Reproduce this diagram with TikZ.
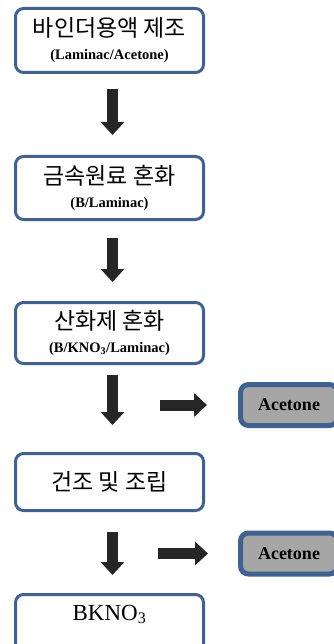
\documentclass[tikz,border=0pt]{standalone}
\usepackage{fontspec}
\setmainfont{Liberation Serif}
\newfontfamily\kr{Noto Sans CJK KR}
\usepackage{tikz}
\usetikzlibrary{arrows.meta,positioning}
\definecolor{boxblue}{RGB}{65,98,145}
\definecolor{stepgray}{RGB}{166,166,166}
\definecolor{arrowdark}{RGB}{38,38,38}
\newcommand{\krtext}{\kr\fontsize{23}{23}\selectfont}
\newcommand{\subtext}{\bfseries\fontsize{14.5}{15}\selectfont}
\tikzset{
  stepbox/.style={draw=boxblue, line width=3pt, rounded corners=8pt, fill=white,
    minimum width=188pt, align=center, inner sep=0pt, font=\fontsize{20}{23}\selectfont},
  outbox/.style={draw=boxblue, line width=5pt, rounded corners=8pt, fill=stepgray,
    minimum width=97pt, minimum height=41pt, font=\bfseries\fontsize{18}{18}\selectfont},
  blockarrow/.style={draw=arrowdark, line width=11pt,
    -{Triangle[width=23pt,length=13pt]}}
}

\begin{document}
\begin{tikzpicture}[x=1pt,y=-1pt]
\useasboundingbox (0,0) rectangle (333,644);
\node[stepbox, minimum height=64pt] (bind) at (109.5,40.5) {{\krtext 바인더용액 제조}\\{\subtext (Laminac/Acetone)}};
\node[stepbox, minimum height=63pt] (metal) at (109.5,188) {{\krtext 금속원료 혼화}\\{\subtext (B/Laminac)}};
\node[stepbox, minimum height=61pt] (oxid) at (109.5,333) {{\krtext 산화제 혼화}\\{\subtext (B/KNO\textsubscript{3}/Laminac)}};
\node[stepbox, minimum height=57pt] (dry) at (109.5,482) {\krtext 건조 및 조립};
\node[stepbox, minimum height=60pt, text depth=24pt, font=\fontsize{23}{23}\selectfont] (prod) at (109.5,624.5) {BKNO\textsubscript{3}};
\node[outbox] (ace1) at (289,405) {Acetone};
\node[outbox] (ace2) at (289,553.5) {Acetone};
\coordinate (out1) at (160,405);
\coordinate (out2) at (158,553.5);
% process flow
\draw[blockarrow, shorten <=15pt, shorten >=20pt] ([xshift=3pt]bind.south) -- ([xshift=3pt]metal.north);
\draw[blockarrow, shorten <=17pt, shorten >=19pt] ([xshift=3pt]metal.south) -- ([xshift=3pt]oxid.north);
\draw[blockarrow, shorten <=10pt, shorten >=27pt] ([xshift=3pt]oxid.south) -- ([xshift=3pt]dry.north);
\draw[blockarrow, shorten <=20pt, shorten >=18pt] ([xshift=3pt]dry.south) -- ([xshift=3pt]prod.north);
% solvent removed
\draw[blockarrow, shorten >=31pt] (out1) -- (ace1);
\draw[blockarrow, shorten >=30pt] (out2) -- (ace2);
\end{tikzpicture}
\end{document}
